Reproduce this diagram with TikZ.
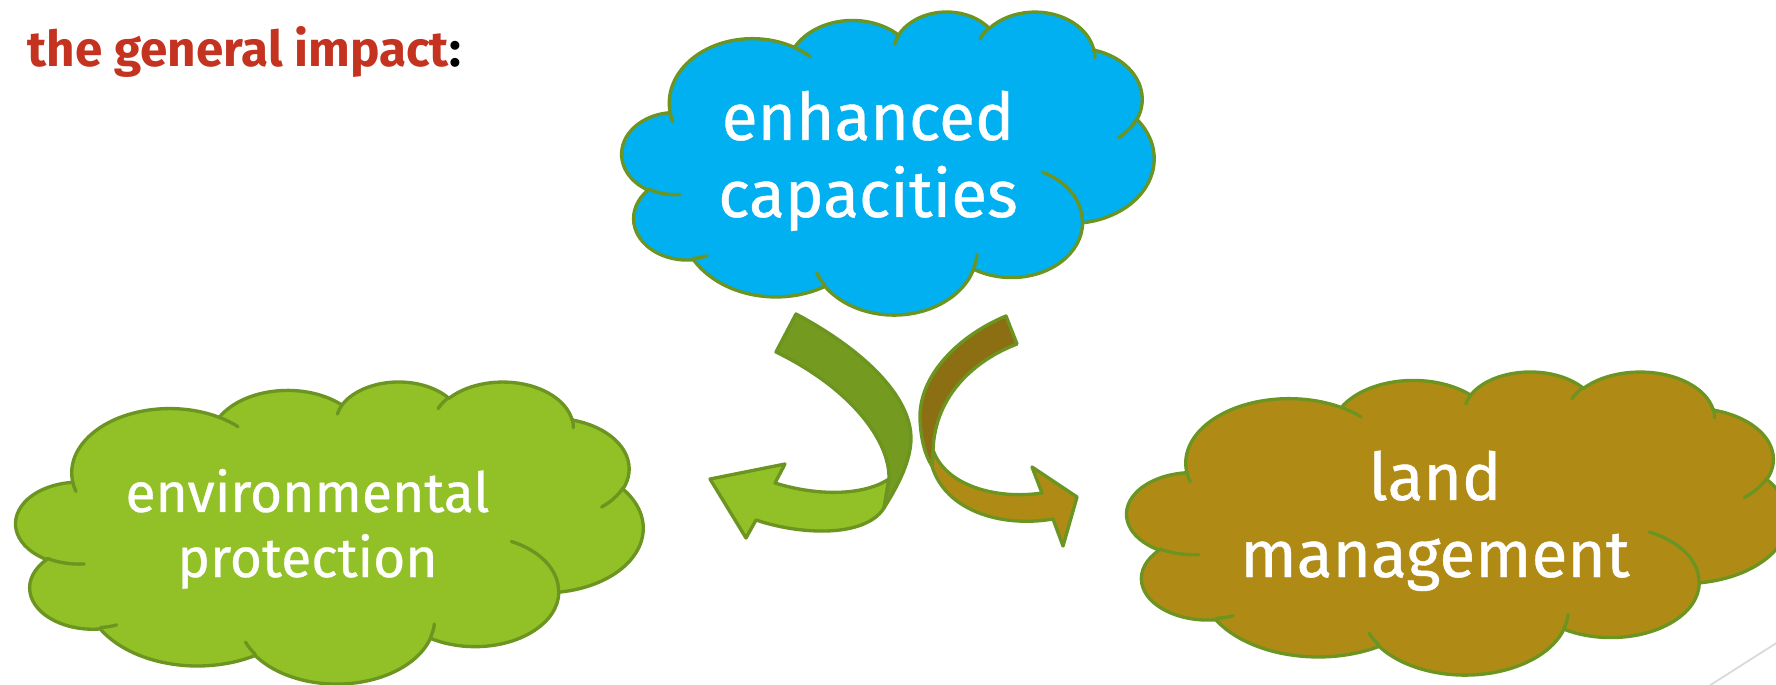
\documentclass[tikz,border=0pt]{standalone}
\usepackage{fontspec}
\setmainfont{Fira Sans}
\newfontfamily\cloudfont{Fira Sans}[FakeBold=0.6]
\definecolor{cloudblue}{RGB}{0,176,240}
\definecolor{leafgreen}{RGB}{145,193,38}
\definecolor{soilbrown}{RGB}{175,139,22}
\definecolor{rimgreen}{RGB}{107,148,32}
\definecolor{backgreen}{RGB}{116,154,31}
\definecolor{backbrown}{RGB}{139,111,18}
\definecolor{titlered}{RGB}{196,50,32}
\tikzset{
  rim/.style={draw=rimgreen, line width=0.95pt, line join=round, line cap=round},
  cloudtext/.style={anchor=base, align=center, text=white, inner sep=0pt}
}
% one lobe of the cloud: radii, start angle, sweep (angles seen from the centre)
\newcommand{\carc}[4]{arc[start angle={atan2(#1*sin(#3),#2*cos(#3))},
  delta angle={mod(atan2(#1*sin(#3+#4),#2*cos(#3+#4))-atan2(#1*sin(#3),#2*cos(#3))+720,360)},
  x radius=#1, y radius=#2]}
% cloud in the box at (#1,#2), width #3, height #4, filled with #5
\newcommand{\cloudat}[5]{%
\begin{scope}[shift={(#1,#2)}, x={#3/432*0.01cm}, y={-#4/432*0.01cm}]
\draw[rim, fill=#5] (39,143.7) \carc{67.53}{91.90}{-190.4875}{123.7805}
  \carc{53.33}{72.67}{-144.1024}{89.9452} \carc{43.65}{59.45}{-145.8079}{99.7230}
  \carc{48.57}{65.95}{-130.9861}{117.2417} \carc{53.33}{72.73}{-78.7089}{109.0269}
  \carc{67.75}{92.20}{-46.2673}{130.2690} \carc{57.85}{78.67}{0.6250}{114.0333}
  \carc{67.52}{92.15}{22.4516}{115.1726} \carc{77.20}{105.43}{66.2426}{75.7110}
  \carc{43.60}{59.18}{-274.9421}{146.7356} \carc{43.45}{59.45}{-246.8285}{152.5189} -- cycle;
%
\draw[rim] (46.93,261.77) \carc{43.45}{59.45}{86.742}{26.4295}
  (69.28,348.99) \carc{43.60}{59.18}{73.6105}{11.4475}
  (164.78,390.90) \carc{67.52}{92.15}{137.6242}{14.0811}
  (288.27,347.51) \carc{67.52}{92.15}{6.4533}{15.9984}
  (341.29,229.54) \carc{57.85}{78.67}{-70.2924}{70.9174}
  (417.98,153.54) \carc{53.33}{72.73}{30.318}{27.7515}
  (383.24,54.26) \carc{48.57}{65.95}{-13.7443}{14.8589}
  (290.78,39.52) \carc{48.57}{65.95}{-149.1815}{18.1954}
  (221.41,47.20) \carc{43.65}{59.45}{-163.4943}{17.6864}
  (140.00,51.92) \carc{67.53}{91.90}{-66.707}{12.3194}
  (41.27,157.89) \carc{67.53}{91.90}{157.6544}{11.8582};
\end{scope}}
\begin{document}
\begin{tikzpicture}[x=0.01cm, y=-0.01cm]
\useasboundingbox (0,0) rectangle (1776,685);
\clip (0,0) rectangle (1776,685);
\pgfmathsetmacro{\bigfs}{18.7}
\pgfmathsetmacro{\smallfs}{15.7}
%
\node[anchor=base west, inner sep=0pt, text=titlered, font=\fontsize{14.05}{16}\selectfont\bfseries]
  (title) at (27,67) {the general impact\textcolor{black}{:}};
%
\cloudat{622}{11}{532}{303}{cloudblue}
\node[cloudtext, font=\cloudfont\fontsize{\bigfs}{21.9}\selectfont] (capa) at (868,217) {enhanced\\capacities};
%
\cloudat{16}{381}{627}{302}{leafgreen}
\node[cloudtext, font=\cloudfont\fontsize{\smallfs}{18.5}\selectfont] (envi) at (307.5,577) {environmental\\protection};
%
\cloudat{1127}{371}{661}{303}{soilbrown}
\node[cloudtext, font=\cloudfont\fontsize{\bigfs}{21.9}\selectfont] (land) at (1435,577) {land\\management};
%
\draw[rim, fill=leafgreen] (889,479) .. controls (865,495) and (820,497) .. (775,483) -- (785,464) -- (710,479)
  -- (746,538) -- (756,520) .. controls (800,535) and (865,538) .. (884,508) -- cycle;
\draw[rim, fill=backgreen] (796,314) .. controls (860,348) and (912,395) .. (911,440)
  .. controls (910,465) and (895,490) .. (884,508) -- (889,479) .. controls (890,440) and (850,388) .. (776,352) -- cycle;
%
\draw[rim, fill=soilbrown] (933,450) .. controls (945,485) and (995,500) .. (1042,493) -- (1032,467) -- (1077,497)
  -- (1063,546) -- (1053,519) .. controls (1000,528) and (945,510) .. (932,466) -- cycle;
\draw[rim, fill=backbrown] (1006,316) .. controls (960,335) and (918,375) .. (920,420)
  .. controls (921,440) and (925,455) .. (932,466) -- (933,450) .. controls (935,395) and (975,360) .. (1017,344) -- cycle;
%
\draw[black!15, line width=0.5pt] (1800,628) -- (1690,698);
\end{tikzpicture}
\end{document}
